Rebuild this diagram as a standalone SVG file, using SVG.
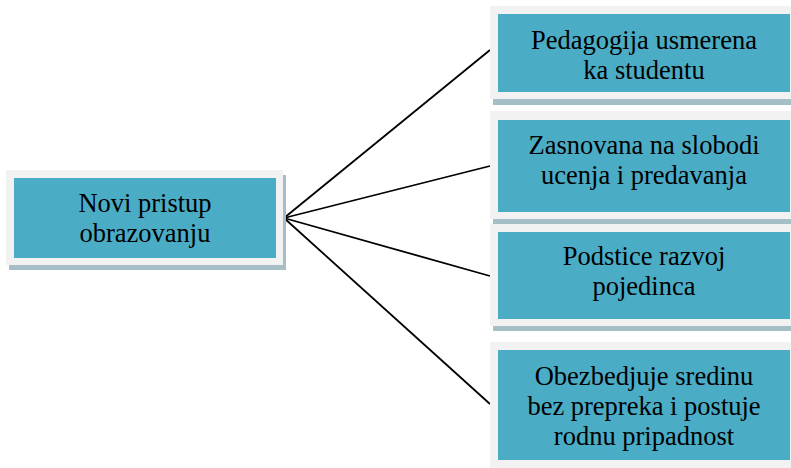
<svg xmlns="http://www.w3.org/2000/svg" width="791" height="468" viewBox="0 0 791 468">
<style>
.shadow{fill:#A6BEC6}
.frame{fill:#F2F2F2}
.box{fill:#4BACC6}
.t{font-family:"Liberation Serif","Times New Roman",serif;font-size:26.5px;fill:#000;text-anchor:middle}
.c{stroke:#000;stroke-width:1.8;fill:none}
</style>
<rect width="791" height="468" fill="#fff"/>
<g id="connectors">
<line class="c" x1="284" y1="218" x2="490" y2="50"/>
<line class="c" x1="284" y1="218" x2="490" y2="166"/>
<line class="c" x1="284" y1="218" x2="490" y2="276"/>
<line class="c" x1="284" y1="218" x2="490" y2="404"/>
</g>
<g id="node-root">
<rect class="shadow" x="9" y="175" width="277" height="95"/>
<rect class="frame" x="6" y="170" width="277" height="95"/>
<rect class="box" x="14" y="178" width="262" height="80"/>
<text class="t" x="145" y="212">Novi pristup</text>
<text class="t" x="145" y="242">obrazovanju</text>
</g>
<g id="node-1">
<rect class="shadow" x="493" y="11" width="310" height="94"/>
<rect class="frame" x="490" y="6" width="310" height="93"/>
<rect class="box" x="498" y="14" width="292" height="78"/>
<text class="t" x="644" y="49">Pedagogija usmerena</text>
<text class="t" x="644" y="79">ka studentu</text>
</g>
<g id="node-2">
<rect class="shadow" x="493" y="116" width="310" height="108"/>
<rect class="frame" x="490" y="111" width="310" height="108"/>
<rect class="box" x="498" y="120" width="292" height="92"/>
<text class="t" x="644" y="154">Zasnovana na slobodi</text>
<text class="t" x="644" y="184">ucenja i predavanja</text>
</g>
<g id="node-3">
<rect class="shadow" x="493" y="229" width="310" height="102"/>
<rect class="frame" x="490" y="224" width="310" height="102"/>
<rect class="box" x="498" y="232" width="292" height="87"/>
<text class="t" x="644" y="265">Podstice razvoj</text>
<text class="t" x="644" y="295">pojedinca</text>
</g>
<g id="node-4">
<rect class="frame" x="490" y="342" width="310" height="130"/>
<rect class="box" x="498" y="350" width="292" height="110"/>
<text class="t" x="644" y="385">Obezbedjuje sredinu</text>
<text class="t" x="644" y="415">bez prepreka i postuje</text>
<text class="t" x="644" y="445">rodnu pripadnost</text>
</g>
</svg>
